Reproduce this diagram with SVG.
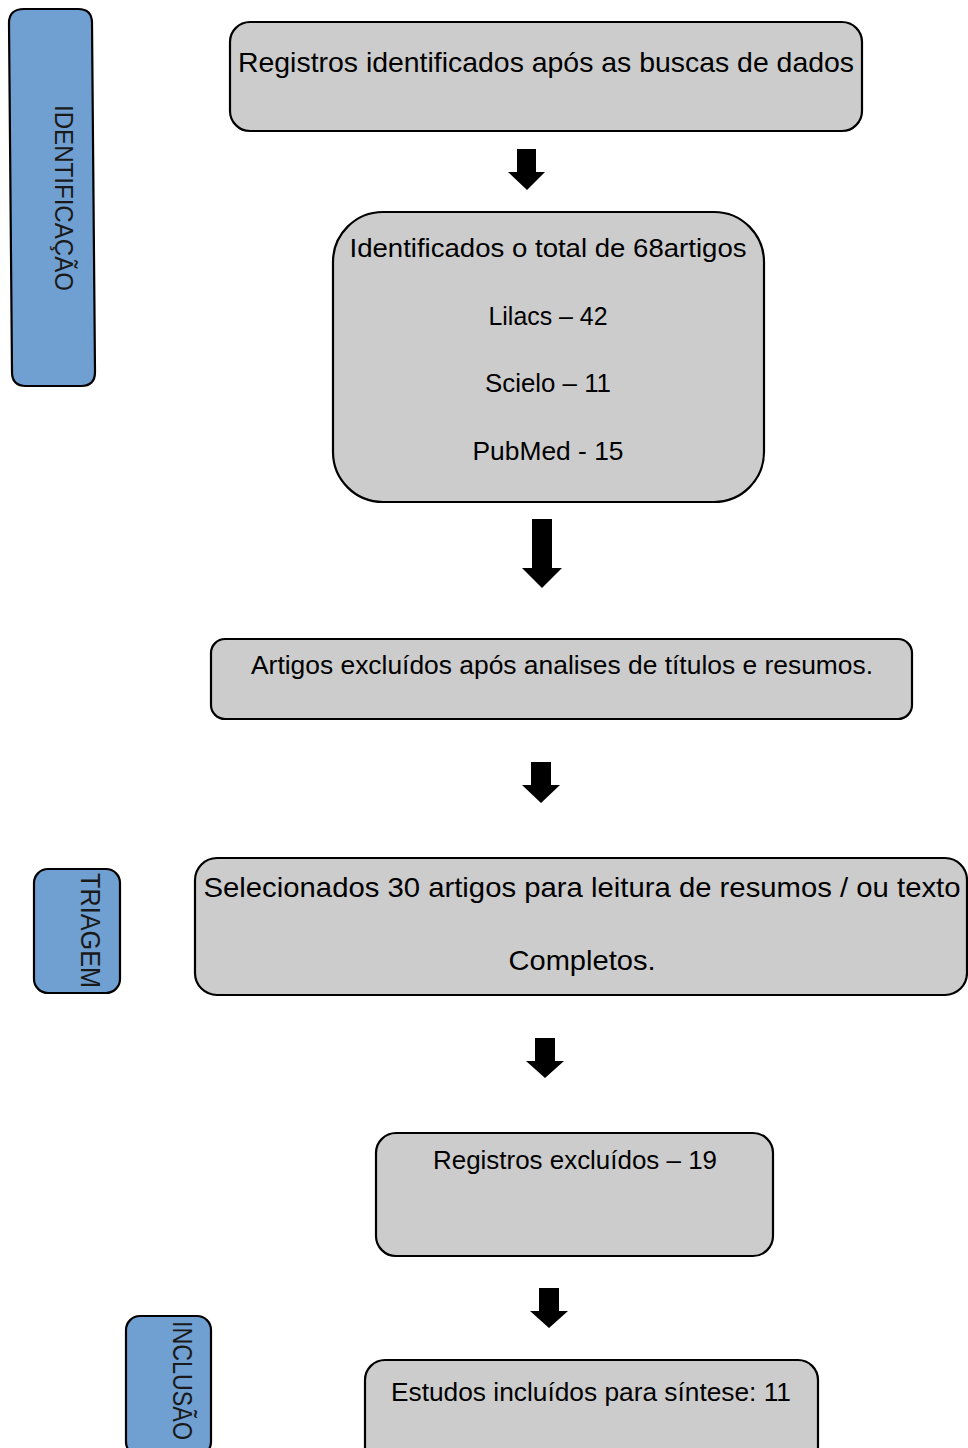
<svg xmlns="http://www.w3.org/2000/svg" width="968" height="1448" viewBox="0 0 968 1448">
<style>
.box{fill:#cccccc;stroke:#000;stroke-width:2.2}
.side{fill:#709fd1;stroke:#000;stroke-width:2.2}
.t{font-family:"Liberation Sans",Arial,sans-serif;fill:#000;text-anchor:middle}
.s{font-family:"Liberation Sans",Arial,sans-serif;fill:#1a1a1a}
.arr{fill:#000}
</style>
<rect width="968" height="1448" fill="#fff"/>
<g id="side-identificacao">
<path class="side" d="M24,9 L78,9 Q92,9 92,23 L95,372 Q95,386 81,386 L26,386 Q12,386 12,372 L9,23 Q9,9 24,9 Z"/>
<text class="s" transform="translate(55,105) rotate(90)" font-size="25" textLength="186" lengthAdjust="spacingAndGlyphs">IDENTIFICAÇÃO</text>
</g>
<g id="side-triagem">
<rect class="side" x="34" y="869" width="86" height="124" rx="14"/>
<text class="s" transform="translate(81,873) rotate(90)" font-size="27" textLength="115" lengthAdjust="spacingAndGlyphs">TRIAGEM</text>
</g>
<g id="side-inclusao">
<rect class="side" x="126" y="1316" width="85" height="140" rx="14"/>
<text class="s" transform="translate(173,1321) rotate(90)" font-size="27" textLength="119" lengthAdjust="spacingAndGlyphs">INCLUSÃO</text>
</g>
<g id="n1">
<rect class="box" x="230" y="22" width="632" height="109" rx="20"/>
<text class="t" x="546" y="72" font-size="28.5" textLength="616" lengthAdjust="spacingAndGlyphs">Registros identificados após as buscas de dados</text>
</g>
<g id="n2">
<rect class="box" x="333" y="212" width="431" height="290" rx="50"/>
<text class="t" x="548" y="257" font-size="26" textLength="397" lengthAdjust="spacingAndGlyphs">Identificados o total de 68artigos</text>
<text class="t" x="548" y="325" font-size="26" textLength="119" lengthAdjust="spacingAndGlyphs">Lilacs – 42</text>
<text class="t" x="548" y="392" font-size="26" textLength="126" lengthAdjust="spacingAndGlyphs">Scielo – 11</text>
<text class="t" x="548" y="460" font-size="26" textLength="151" lengthAdjust="spacingAndGlyphs">PubMed - 15</text>
</g>
<g id="n3">
<rect class="box" x="211" y="639" width="701" height="80" rx="14"/>
<text class="t" x="562" y="674" font-size="25" textLength="622" lengthAdjust="spacingAndGlyphs">Artigos excluídos após analises de títulos e resumos.</text>
</g>
<g id="n4">
<rect class="box" x="195" y="858" width="772" height="137" rx="22"/>
<text class="t" x="582" y="897" font-size="28" textLength="757" lengthAdjust="spacingAndGlyphs">Selecionados 30 artigos para leitura de resumos / ou texto</text>
<text class="t" x="582" y="970" font-size="28" textLength="147" lengthAdjust="spacingAndGlyphs">Completos.</text>
</g>
<g id="n5">
<rect class="box" x="376" y="1133" width="397" height="123" rx="20"/>
<text class="t" x="575" y="1169" font-size="26" textLength="284" lengthAdjust="spacingAndGlyphs">Registros excluídos – 19</text>
</g>
<g id="n6">
<rect class="box" x="365" y="1360" width="453" height="110" rx="20"/>
<text class="t" x="591" y="1401" font-size="26" textLength="400" lengthAdjust="spacingAndGlyphs">Estudos incluídos para síntese: 11</text>
</g>
<g id="connectors">
<polygon class="arr" points="517,149 536,149 536,172 545,172 527,190 508,172 517,172"/>
<polygon class="arr" points="532,519 552,519 552,568 562,568 542,588 522,568 532,568"/>
<polygon class="arr" points="531,762 551,762 551,785 560,785 541,803 522,785 531,785"/>
<polygon class="arr" points="535,1038 555,1038 555,1061 564,1061 545,1078 526,1061 535,1061"/>
<polygon class="arr" points="539,1288 559,1288 559,1311 568,1311 549,1328 530,1311 539,1311"/>
</g>
</svg>
